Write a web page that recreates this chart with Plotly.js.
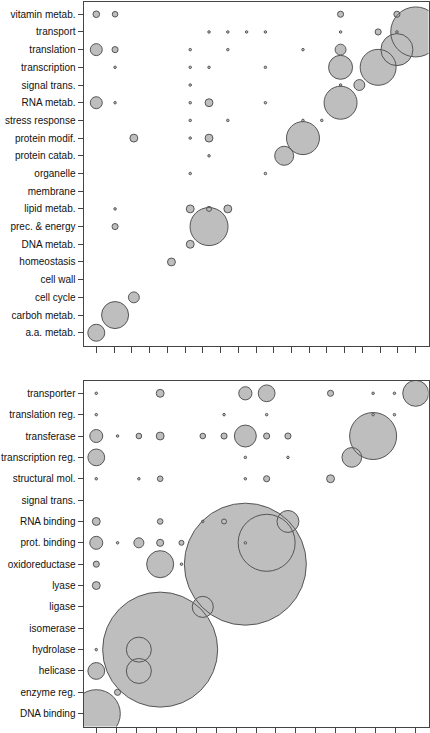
<!DOCTYPE html>
<html><head><meta charset="utf-8">
<script src="https://cdn.plot.ly/plotly-3.0.1.min.js"></script>
<style>html,body{margin:0;padding:0;background:#fff;}#chart{width:430px;height:733px;}</style>
</head><body><div id="chart"></div>
<script>
// ---- Top panel (biological process) ----
const topRows = ["a.a. metab.","carboh metab.","cell cycle","cell wall","homeostasis","DNA metab.","prec. & energy","lipid metab.","membrane","organelle","protein catab.","protein modif.","stress response","RNA metab.","signal trans.","transcription","translation","transport","vitamin metab."];
const topNCols = 18;
const topBubbleRow = [
 "vitamin metab.","vitamin metab.","vitamin metab.","vitamin metab.",
 "transport","transport","transport","transport","transport","transport","transport","transport",
 "translation","translation","translation","translation","translation","translation","translation",
 "transcription","transcription","transcription","transcription","transcription","transcription",
 "signal trans.","signal trans.","signal trans.",
 "RNA metab.","RNA metab.","RNA metab.","RNA metab.","RNA metab.","RNA metab.",
 "stress response","stress response","stress response","stress response",
 "protein modif.","protein modif.","protein modif.","protein modif.",
 "protein catab.","protein catab.",
 "organelle","organelle",
 "lipid metab.","lipid metab.","lipid metab.","lipid metab.",
 "prec. & energy","prec. & energy",
 "DNA metab.","homeostasis","cell cycle","carboh metab.","a.a. metab."];
const topBubbleCol = [
 1,2,14,17,
 7,8,9,10,14,16,17,18,
 1,2,6,8,12,14,17,
 2,6,7,10,14,16,
 6,14,15,
 1,2,6,7,10,14,
 6,8,12,13,
 3,6,7,12,
 7,11,
 6,10,
 2,6,7,8,
 2,7,
 6,5,3,2,1];
const topBubbleVal = [
 7,5,6,6,
 1,1,1,1,1,6,1,400,
 23,6,1,1,1,19,164,
 1,1,1,1,92,207,
 1,1,19,
 23,1,1,10,1,174,
 1,1,1,1,
 10,1,10,174,
 1,58,
 1,1,
 1,10,4,10,
 6,231,
 10,10,19,117,46];

// ---- Bottom panel (molecular function) ----
const botRows = ["DNA binding","enzyme reg.","helicase","hydrolase","isomerase","ligase","lyase","oxidoreductase","prot. binding","RNA binding","signal trans.","structural mol.","transcription reg.","transferase","translation reg.","transporter"];
const botNCols = 16;
const botBubbleRow = [
 "transporter","transporter","transporter","transporter","transporter","transporter","transporter","transporter",
 "translation reg.","translation reg.","translation reg.","translation reg.","translation reg.",
 "transferase","transferase","transferase","transferase","transferase","transferase","transferase","transferase","transferase","transferase",
 "transcription reg.","transcription reg.","transcription reg.","transcription reg.",
 "structural mol.","structural mol.","structural mol.","structural mol.","structural mol.","structural mol.",
 "RNA binding","RNA binding","RNA binding","RNA binding","RNA binding",
 "prot. binding","prot. binding","prot. binding","prot. binding","prot. binding","prot. binding","prot. binding",
 "oxidoreductase","oxidoreductase","oxidoreductase","oxidoreductase",
 "lyase","ligase",
 "hydrolase","hydrolase","hydrolase",
 "helicase","helicase",
 "enzyme reg.","DNA binding"];
const botBubbleCol = [
 1,4,8,9,12,14,15,16,
 1,7,9,14,15,
 1,2,3,4,6,7,8,9,10,14,
 1,8,10,13,
 1,3,4,8,9,12,
 1,4,6,7,10,
 1,2,3,4,5,8,9,
 1,4,5,8,
 1,6,
 1,3,4,
 1,3,
 2,1];
const botBubbleVal = [
 1,10,28,45,6,1,1,108,
 1,1,1,1,1,
 27,1,5,10,5,6,77,6,6,353,
 45,1,1,62,
 1,1,5,1,6,10,
 10,5,1,4,77,
 27,1,16,8,4,1,520,
 6,117,1,2381,
 10,71,
 1,100,2116,
 45,100,
 6,369];

const FILL = '#bebebe', EDGE = '#555555', AX = '#444444';
const SIZEREF = 0.32;

function bubbleTraces(rows, rowNames, cols, vals, xa, ya){
  const y = rowNames.map(r => rows.indexOf(r) + 1);
  const base = {type:'scatter', mode:'markers', x: cols, y: y, xaxis: xa, yaxis: ya,
    hoverinfo:'skip', showlegend:false, cliponaxis:true};
  return [
    Object.assign({}, base, {marker:{size: vals, sizemode:'area', sizeref:SIZEREF, opacity:1, color:FILL, line:{width:0}}}),
    Object.assign({}, base, {marker:{size: vals, sizemode:'area', sizeref:SIZEREF, opacity:1, color:'rgba(0,0,0,0)', line:{width:1, color:EDGE}}})
  ];
}

function tickPositions(n){ return Array.from({length:n+1}, (_,i) => 1 + i*(n-1)/n); }

const H = 733, W = 430;
const xdom = [83.5/W, 428.5/W];
const font = {family:'"Liberation Sans", Arial, Helvetica, sans-serif', size:10, color:'#111'};

function xAxis(n, anchor){
  const pad = (n-1)*0.04;
  return {domain:xdom, range:[1-pad, n+pad], anchor:anchor, tickmode:'array', tickvals:tickPositions(n),
    showticklabels:false, ticks:'outside', ticklen:6, tickwidth:1, tickcolor:AX,
    showline:true, mirror:true, linecolor:AX, linewidth:1, showgrid:false, zeroline:false, fixedrange:true};
}
function yAxis(rows, dom, anchor){
  const n = rows.length, pad = (n-1)*0.04;
  return {domain:dom, range:[1-pad, n+pad], anchor:anchor, tickmode:'array',
    tickvals: rows.map((_,i)=>i+1), ticktext: rows, ticks:'outside', ticklen:5, tickwidth:1, tickcolor:AX,
    showline:true, mirror:true, linecolor:AX, linewidth:1, showgrid:false, zeroline:false, fixedrange:true,
    tickfont:font};
}

const data = [].concat(
  bubbleTraces(topRows, topBubbleRow, topBubbleCol, topBubbleVal, 'x', 'y'),
  bubbleTraces(botRows, botBubbleRow, botBubbleCol, botBubbleVal, 'x2', 'y2')
);

const layout = {
  width:W, height:H, margin:{l:0,r:0,t:0,b:0}, paper_bgcolor:'#fff', plot_bgcolor:'#fff',
  font:font, showlegend:false,
  xaxis: xAxis(topNCols, 'y'),
  yaxis: yAxis(topRows, [(H-345.5)/H, (H-1.5)/H], 'x'),
  xaxis2: xAxis(botNCols, 'y2'),
  yaxis2: yAxis(botRows, [(H-726.5)/H, (H-380.5)/H], 'x2')
};

Plotly.newPlot('chart', data, layout, {displayModeBar:false, staticPlot:true});
</script>
</body></html>
